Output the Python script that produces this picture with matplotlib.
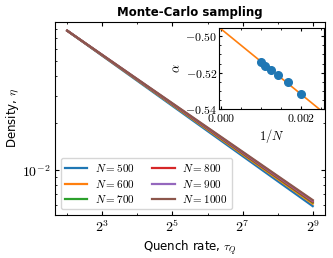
import matplotlib
matplotlib.use('Agg')
import matplotlib.pyplot as plt
from matplotlib.ticker import FixedLocator, FixedFormatter, NullFormatter, MultipleLocator, AutoMinorLocator, FuncFormatter
import numpy as np

plt.rcParams['mathtext.fontset'] = 'cm'
plt.rcParams['font.family'] = 'DejaVu Sans'

# quench rates
tau = [4, 8, 16, 32, 64, 128, 256, 512]
# density for each system size
eta_500 = [0.0780, 0.05392, 0.03728, 0.02577, 0.01781, 0.01231, 0.00851, 0.00589]
eta_600 = [0.0780, 0.05419, 0.03765, 0.02616, 0.01818, 0.01263, 0.00878, 0.00610]
eta_700 = [0.0780, 0.05435, 0.03787, 0.02639, 0.01839, 0.01281, 0.00893, 0.00622]
eta_800 = [0.0780, 0.05444, 0.03799, 0.02651, 0.01850, 0.01291, 0.00901, 0.00629]
eta_900 = [0.0780, 0.05453, 0.03812, 0.02665, 0.01863, 0.01303, 0.00911, 0.00637]
eta_1000 = [0.0780, 0.05462, 0.03824, 0.02678, 0.01875, 0.01313, 0.00919, 0.00644]
sizes = [500, 600, 700, 800, 900, 1000]
etas = [eta_500, eta_600, eta_700, eta_800, eta_900, eta_1000]

# inset: exponent vs 1/N
inv_N = [0.002, 0.001667, 0.001429, 0.00125, 0.001111, 0.001]
alpha = [-0.5318, -0.5251, -0.5213, -0.5186, -0.5162, -0.5139]
fit_x = [0.0, 0.0025]
fit_y = [-0.4960, -0.5408]

fig = plt.figure(figsize=(3.33, 2.58), dpi=100)
ax = fig.add_axes([0.165, 0.167, 0.811, 0.748])

for N, eta in zip(sizes, etas):
    ax.plot(tau, eta, linewidth=1.6, label=r'$N = %d$' % N)

ax.set_xscale('log', base=2)
ax.set_yscale('log')
ax.xaxis.set_major_locator(FixedLocator([8, 32, 128, 512]))
ax.xaxis.set_major_formatter(FixedFormatter([r'$2^{3}$', r'$2^{5}$', r'$2^{7}$', r'$2^{9}$']))
ax.xaxis.set_minor_locator(FixedLocator([4, 16, 64, 256]))
ax.xaxis.set_minor_formatter(NullFormatter())
ax.yaxis.set_major_formatter(FuncFormatter(lambda v, p: r'$10^{%d}$' % round(np.log10(v))))
ax.yaxis.set_minor_formatter(NullFormatter())
ax.tick_params(which='both', direction='in', top=True, right=True, labelsize=10)
ax.tick_params(which='major', length=3, pad=3)
ax.tick_params(which='minor', length=1.5)

ax.set_title('Monte-Carlo sampling', fontsize=8.5, fontweight='bold', pad=4)
ax.set_xlabel(r'Quench rate, $\tau_Q$', fontsize=8.5, labelpad=2)
ax.set_ylabel(r'Density, $\eta$', fontsize=8.5, labelpad=1)
ax.legend(loc='lower left', ncol=2, fontsize=8, handlelength=2.0, handletextpad=0.7,
          columnspacing=1.6, labelspacing=0.3, borderpad=0.4)

ins = fig.add_axes([0.658, 0.578, 0.315, 0.313])
ins.plot(fit_x, fit_y, color='C1', linewidth=1.2)
ins.plot(inv_N, alpha, 'o', color='C0', markersize=5.5)
ins.set_xlim(-0.00005, 0.00258)
ins.set_ylim(-0.54, -0.4955)
ins.xaxis.set_major_locator(MultipleLocator(0.002))
ins.xaxis.set_minor_locator(AutoMinorLocator(4))
ins.yaxis.set_major_locator(MultipleLocator(0.02))
ins.yaxis.set_minor_locator(AutoMinorLocator(4))
ins.xaxis.set_major_formatter(FuncFormatter(lambda v, p: r'$%.3f$' % v))
ins.yaxis.set_major_formatter(FuncFormatter(lambda v, p: r'$%.2f$' % v))
ins.tick_params(which='both', direction='in', top=True, right=True, labelsize=8.5, pad=1.5)
ins.tick_params(axis='x', pad=2.5)
ins.tick_params(which='major', length=2.5)
ins.tick_params(which='minor', length=1.2)
ins.set_xlabel(r'$1/N$', fontsize=9, labelpad=1)
ins.set_ylabel(r'$\alpha$', fontsize=9, labelpad=1)

fig.savefig('out.png', dpi=100)
